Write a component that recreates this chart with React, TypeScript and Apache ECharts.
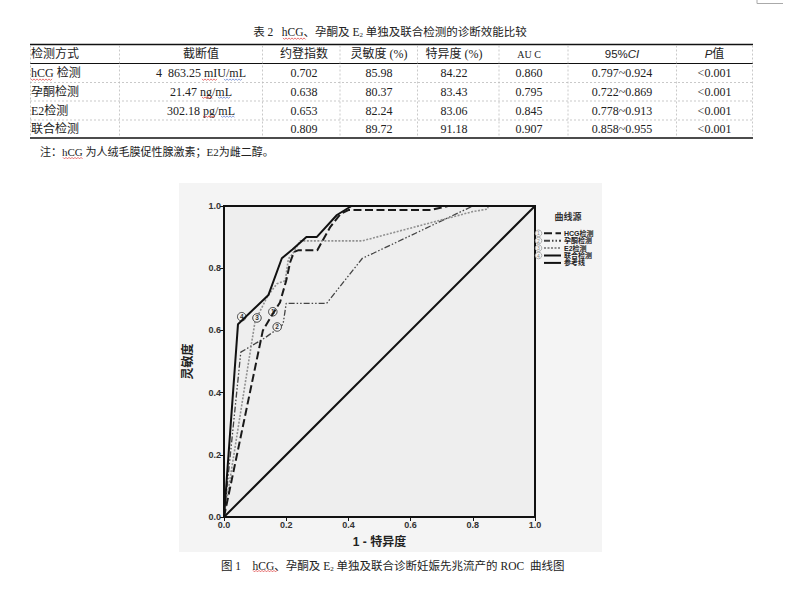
import React, { useEffect, useRef } from "react";
import * as echarts from "echarts";

// ---------- table data ----------
const tableTitle = "表 2   hCG、孕酮及 E";
const tableTitleTail = " 单独及联合检测的诊断效能比较";
const headers = ["检测方式", "截断值", "约登指数", "灵敏度 (%)", "特异度 (%)", "AU C", "95%CI", "P值"];
const methods = ["hCG 检测", "孕酮检测", "E2检测", "联合检测"];
const cutoffs = ["4  863.25 mIU/mL", "21.47 ng/mL", "302.18 pg/mL", ""];
const youden = ["0.702", "0.638", "0.653", "0.809"];
const sensitivity = ["85.98", "80.37", "82.24", "89.72"];
const specificity = ["84.22", "83.43", "83.06", "91.18"];
const aucValues = ["0.860", "0.795", "0.845", "0.907"];
const ci95 = ["0.797~0.924", "0.722~0.869", "0.778~0.913", "0.858~0.955"];
const pValues = ["<0.001", "<0.001", "<0.001", "<0.001"];
const noteText = "注：hCG 为人绒毛膜促性腺激素；E2为雌二醇。";
const captionHead = "图 1    hCG、孕酮及 E";
const captionTail = " 单独及联合诊断妊娠先兆流产的 ROC  曲线图";

// ---------- ROC data ----------
const legendTitle = "曲线源";
const seriesNames = ["HCG检测", "孕酮检测", "E2检测", "联合检测", "参考线"];
const circledNums = ["1", "2", "3", "4"];
const hcgCurve = [[0, 0], [0.125, 0.6], [0.155, 0.65], [0.18, 0.69], [0.2, 0.76], [0.213, 0.82], [0.225, 0.852], [0.24, 0.858], [0.3, 0.858], [0.342, 0.933], [0.375, 0.975], [0.4, 0.987], [0.665, 0.987], [0.72, 1], [1, 1]];
const progCurve = [[0, 0], [0.054, 0.53], [0.13, 0.575], [0.175, 0.607], [0.19, 0.62], [0.2, 0.687], [0.33, 0.687], [0.445, 0.832], [0.48, 0.848], [0.8, 1], [1, 1]];
const e2Curve = [[0, 0], [0.1, 0.63], [0.14, 0.71], [0.17, 0.75], [0.197, 0.76], [0.207, 0.83], [0.22, 0.845], [0.245, 0.888], [0.445, 0.888], [0.8, 0.982], [0.847, 0.99], [0.85, 1], [1, 1]];
const comboCurve = [[0, 0], [0.045, 0.62], [0.143, 0.714], [0.186, 0.832], [0.22, 0.86], [0.265, 0.9], [0.298, 0.9], [0.363, 0.971], [0.41, 1], [1, 1]];
const refLine = [[0, 0], [1, 1]];
const curveLabelPos = [[0.157, 0.66], [0.171, 0.611], [0.106, 0.64], [0.057, 0.644]];

const SERIF = "'Liberation Serif', 'Noto Sans CJK SC', serif";
const SANS = "'Liberation Sans', 'Noto Sans CJK SC', sans-serif";

function wavy(x0: number, x1: number, y: number, color = "#d33") {
  const pts: number[][] = [];
  let i = 0;
  for (let x = x0; x <= x1; x += 1.5, i++) pts.push([x, y + (i % 2 ? 0.9 : -0.6)]);
  return { type: "polyline", silent: true, shape: { points: pts }, style: { stroke: color, lineWidth: 0.7, fill: null } };
}

function buildGraphic() {
  const els: any[] = [];
  const colB = [30.5, 119.5, 262.5, 340, 417.5, 499, 568, 676.5, 752.5];
  const colC = [31, 201, 304, 379, 454, 529, 622, 714.5];
  const top = 44.5, headBottom = 63.5, rowLines = [82.5, 101, 120], bottom = 138;
  els.push({ type: "rect", z: -100, silent: true, shape: { x: 179, y: 183, width: 423, height: 369 }, style: { fill: "#f4f4f4" } });
  els.push({ type: "polyline", silent: true, shape: { points: [[757, 0], [757, 3.5], [783, 3.5]] }, style: { stroke: "#aaa", lineWidth: 1, fill: null } });
  els.push({
    type: "text", silent: true,
    style: {
      x: 390, y: 32, align: "center", verticalAlign: "middle",
      text: "{a|" + tableTitle + "}{s|2}{a|" + tableTitleTail + "}",
      rich: { a: { fontFamily: SERIF, fontSize: 11.5, fill: "#222" }, s: { fontFamily: SERIF, fontSize: 7, fill: "#222", padding: [5, 0, 0, 0] } },
    },
  });
  els.push({ type: "line", silent: true, shape: { x1: 30, y1: top, x2: 753, y2: top }, style: { stroke: "#111", lineWidth: 1.5 } });
  els.push({ type: "line", silent: true, shape: { x1: 30, y1: headBottom, x2: 753, y2: headBottom }, style: { stroke: "#111", lineWidth: 1.2 } });
  rowLines.forEach((y) => els.push({ type: "line", silent: true, shape: { x1: 30, y1: y, x2: 753, y2: y }, style: { stroke: "#bbb", lineWidth: 0.8, lineDash: [2, 2] } }));
  els.push({ type: "line", silent: true, shape: { x1: 30, y1: bottom, x2: 753, y2: bottom }, style: { stroke: "#111", lineWidth: 1.5 } });
  colB.forEach((x) => els.push({ type: "line", silent: true, shape: { x1: x, y1: top + 1, x2: x, y2: bottom - 1 }, style: { stroke: "#bbb", lineWidth: 0.8, lineDash: [2, 2] } }));
  const headY = (top + headBottom) / 2;
  headers.forEach((h, i) => {
    let text = h;
    let rich: any = undefined;
    if (h === "95%CI") { text = "{n|95%}{i|CI}"; rich = { n: { fontFamily: SANS, fontSize: 11.5, fill: "#222" }, i: { fontFamily: SANS, fontSize: 11.5, fontStyle: "italic", fill: "#222" } }; }
    if (h === "P值") { text = "{i|P}{n|值}"; rich = { n: { fontFamily: SERIF, fontSize: 12, fill: "#222" }, i: { fontFamily: SANS, fontSize: 11.5, fontStyle: "italic", fill: "#222" } }; }
    els.push({
      type: "text", silent: true,
      style: {
        x: colC[i], y: headY, align: i === 0 ? "left" : "center", verticalAlign: "middle",
        text, rich, fontFamily: SERIF, fontSize: h === "AU C" ? 10 : 12, fill: "#222",
      },
    });
  });
  const rowsY = [headBottom, ...rowLines, bottom];
  const cols = [methods, cutoffs, youden, sensitivity, specificity, aucValues, ci95, pValues];
  for (let r = 0; r < methods.length; r++) {
    const y = (rowsY[r] + rowsY[r + 1]) / 2;
    cols.forEach((col, c) => {
      els.push({
        type: "text", silent: true,
        style: { x: colC[c], y, align: c === 0 ? "left" : "center", verticalAlign: "middle", text: col[r], fontFamily: SERIF, fontSize: 12, fill: "#222" },
      });
    });
  }
  els.push({ type: "text", silent: true, style: { x: 40, y: 152, align: "left", verticalAlign: "middle", text: noteText, fontFamily: SERIF, fontSize: 11, fill: "#222" } });
  els.push({
    type: "text", silent: true,
    style: {
      x: 221, y: 566, align: "left", verticalAlign: "middle",
      text: "{a|" + captionHead + "}{s|2}{a|" + captionTail + "}",
      rich: { a: { fontFamily: SERIF, fontSize: 11.5, fill: "#222" }, s: { fontFamily: SERIF, fontSize: 7, fill: "#222", padding: [5, 0, 0, 0] } },
    },
  });
  els.push(wavy(283, 306, 38.5));
  els.push(wavy(31, 52, 79.5));
  els.push(wavy(202, 218, 79.5));
  els.push(wavy(224, 242, 79.5, "#5577cc"));
  els.push(wavy(202, 213, 97.5));
  els.push(wavy(218, 231, 97.5, "#5577cc"));
  els.push(wavy(203, 216, 116.5));
  els.push(wavy(221, 235, 116.5, "#5577cc"));
  els.push(wavy(63, 83, 158));
  els.push(wavy(253, 277, 571));
  els.push({ type: "text", silent: true, style: { x: 568, y: 217, align: "center", verticalAlign: "middle", text: legendTitle, fontFamily: SANS, fontWeight: "bold", fontSize: 9, fill: "#333" } });
  circledNums.forEach((n, i) => {
    const cy = 233.3 + i * 7.4;
    els.push({ type: "circle", silent: true, shape: { cx: 538.5, cy, r: 3.3 }, style: { fill: "#f4f4f4", stroke: "#999", lineWidth: 0.8 } });
    els.push({ type: "text", silent: true, style: { x: 538.5, y: cy, align: "center", verticalAlign: "middle", text: n, fontFamily: SANS, fontSize: 5, lineHeight: 5, fill: "#888" } });
  });
  return els;
}

export default function App() {
  const ref = useRef<HTMLDivElement>(null);
  useEffect(() => {
    if (!ref.current) return;
    const chart = echarts.init(ref.current, undefined, { renderer: "svg" });
    const mk = (name: string, data: number[][], lineStyle: any, labelIdx: number | null, z = 3) => ({
      type: "line", name, data, showSymbol: false, symbol: "none", z, silent: true, lineStyle,
      itemStyle: { color: lineStyle.color },
      markPoint: labelIdx === null ? undefined : {
        silent: true, symbol: "circle", symbolSize: 8.5,
        itemStyle: { color: "#f2f2f2", borderColor: "#444", borderWidth: 1 },
        label: { show: true, position: "inside", formatter: String(labelIdx + 1), fontSize: 6.5, fontWeight: "bold", color: "#333", fontFamily: SANS },
        data: [{ coord: curveLabelPos[labelIdx] }],
      },
    });
    const series = [
      mk(seriesNames[0], hcgCurve, { color: "#1a1a1a", width: 2, type: [8, 3.5] }, 0, 5),
      mk(seriesNames[1], progCurve, { color: "#444", width: 1.3, type: [6, 2, 1.5, 2, 1.5, 2] }, 1, 4),
      mk(seriesNames[2], e2Curve, { color: "#909090", width: 1.6, type: [2, 1.5] }, 2, 4),
      mk(seriesNames[3], comboCurve, { color: "#111", width: 2, type: "solid" }, 3, 6),
      mk(seriesNames[4], refLine, { color: "#111", width: 2, type: "solid" }, null, 3),
    ];
    const axisCommon = {
      type: "value", min: 0, max: 1, interval: 0.2,
      axisLine: { show: true, lineStyle: { color: "#111", width: 2 } },
      axisTick: { show: true, length: 4, lineStyle: { color: "#111", width: 1 } },
      splitLine: { show: false },
      axisLabel: { formatter: (v: number) => v.toFixed(1), fontSize: 9, fontWeight: "bold", color: "#333", fontFamily: SANS, margin: 3 },
      nameTextStyle: { fontSize: 12, fontWeight: "bold", color: "#222", fontFamily: SANS },
    };
    chart.setOption({
      animation: false,
      backgroundColor: "#ffffff",
      grid: { left: 224, top: 206, right: 804 - 535, bottom: 599 - 517, show: true, backgroundColor: "#eeeeee", borderColor: "#111", borderWidth: 2 },
      xAxis: { ...axisCommon, name: "1 - 特异度", nameLocation: "middle", nameGap: 19 },
      yAxis: { ...axisCommon, name: "灵敏度", nameLocation: "middle", nameGap: 30, nameRotate: 90 },
      legend: {
        orient: "vertical", left: 543, top: 229.6, itemWidth: 17, itemHeight: 7.4, itemGap: 0, padding: 0,
        selectedMode: false,
        data: seriesNames,
        itemStyle: { opacity: 0 },
        textStyle: { fontSize: 7, fontWeight: "bold", color: "#222", fontFamily: SANS, lineHeight: 7.4, padding: [0, 0, 0, -2] },
      },
      graphic: { elements: buildGraphic() },
      series,
    });
    return () => chart.dispose();
  }, []);
  return <div ref={ref} style={{ position: "fixed", left: 0, top: 0, width: 804, height: 599 }} />;
}
